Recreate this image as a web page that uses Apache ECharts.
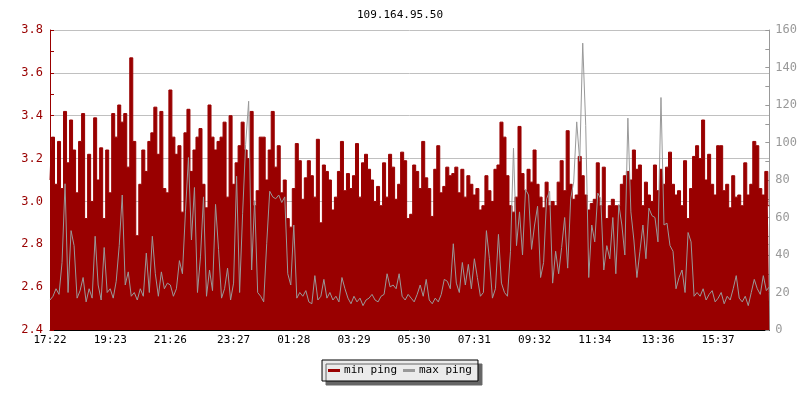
<!DOCTYPE html>
<html>
<head>
<meta charset="utf-8">
<title>109.164.95.50</title>
<script src="https://cdn.jsdelivr.net/npm/echarts@6/dist/echarts.min.js"></script>
<style>
  html, body { margin: 0; padding: 0; background: #fff; }
  #myPing { width: 800px; height: 400px; }
</style>
</head>
<body>
<div id="myPing"></div>
<script>
// tick labels and the sample index each one sits on
var tickLabels = ['17:22', '19:23', '21:26', '23:27', '01:28', '03:29', '05:30', '07:31', '09:32', '11:34', '13:36', '15:37']
var tickIdx = [0, 20, 40, 61, 81, 101, 121, 141, 161, 181, 202, 222]

// min ping, left axis (ms)
var minPing = [
  3.10, 3.30, 3.08, 3.28, 3.06, 3.42, 3.18, 3.38, 3.24, 3.04,
  3.28, 3.41, 2.92, 3.22, 3.00, 3.39, 3.10, 3.25, 2.92, 3.24,
  3.04, 3.41, 3.30, 3.45, 3.37, 3.41, 3.16, 3.67, 3.28, 2.84,
  3.08, 3.24, 3.14, 3.28, 3.32, 3.44, 3.22, 3.42, 3.06, 3.04,
  3.52, 3.30, 3.22, 3.26, 2.95, 3.32, 3.43, 3.14, 3.24, 3.30,
  3.34, 3.08, 2.97, 3.45, 3.30, 3.24, 3.28, 3.30, 3.37, 3.02,
  3.40, 3.08, 3.18, 3.26, 3.37, 3.24, 3.20, 3.42, 2.98, 3.05,
  3.30, 3.30, 3.10, 3.24, 3.42, 3.16, 3.26, 3.04, 3.10, 2.92,
  2.88, 3.06, 3.27, 3.19, 3.01, 3.11, 3.19, 3.12, 3.02, 3.29,
  2.90, 3.17, 3.14, 3.10, 2.96, 3.02, 3.14, 3.28, 3.05, 3.13,
  3.06, 3.12, 3.27, 3.02, 3.18, 3.22, 3.15, 3.10, 3.00, 3.07,
  2.98, 3.18, 3.02, 3.22, 3.16, 3.01, 3.08, 3.23, 3.19, 2.92,
  2.94, 3.17, 3.14, 3.06, 3.28, 3.11, 3.06, 2.93, 3.15, 3.26,
  3.04, 3.07, 3.16, 3.12, 3.13, 3.16, 3.04, 3.15, 3.02, 3.12,
  3.08, 3.03, 3.06, 2.96, 2.98, 3.12, 3.05, 3.00, 3.15, 3.17,
  3.37, 3.30, 3.12, 2.98, 2.95, 3.02, 3.35, 3.13, 3.05, 3.15,
  3.09, 3.24, 3.08, 3.02, 2.97, 3.09, 2.98, 3.00, 2.98, 3.09,
  3.19, 3.05, 3.33, 3.08, 3.01, 3.03, 3.21, 3.12, 3.03, 2.96,
  2.99, 3.01, 3.18, 2.98, 3.16, 2.92, 2.98, 3.01, 2.98, 2.98,
  3.08, 3.12, 3.14, 3.10, 3.24, 3.15, 3.17, 2.98, 3.09, 3.03,
  3.00, 3.17, 3.05, 3.15, 3.08, 3.16, 3.23, 3.08, 3.03, 3.05,
  2.98, 3.19, 2.92, 3.06, 3.21, 3.26, 3.20, 3.38, 3.10, 3.22,
  3.08, 3.03, 3.26, 3.26, 3.05, 3.08, 2.97, 3.12, 3.02, 3.03,
  2.98, 3.18, 3.03, 3.08, 3.28, 3.26, 3.06, 3.03, 3.14, 2.98
]

// max ping, right axis (ms)
var maxPing = [
  16, 18, 22, 19, 36, 78, 20, 53, 45, 17,
  21, 28, 15, 22, 17, 50, 24, 16, 44, 20,
  22, 17, 26, 45, 72, 24, 31, 18, 20, 16,
  22, 18, 41, 20, 50, 30, 18, 31, 22, 25,
  24, 18, 22, 37, 30, 63, 92, 48, 76, 20,
  39, 71, 18, 32, 21, 67, 43, 17, 22, 33,
  16, 25, 82, 20, 62, 99, 122, 32, 69, 20,
  18, 15, 46, 74, 71, 70, 72, 68, 71, 30,
  24, 56, 17, 20, 18, 21, 15, 14, 29, 16,
  18, 27, 17, 20, 16, 18, 15, 28, 22, 17,
  14, 18, 15, 17, 13, 16, 17, 19, 16, 15,
  18, 19, 30, 23, 24, 22, 30, 18, 16, 19,
  17, 15, 19, 24, 18, 27, 16, 14, 17, 15,
  19, 27, 26, 22, 46, 25, 20, 36, 24, 35,
  22, 38, 28, 18, 20, 53, 38, 17, 22, 51,
  25, 20, 18, 42, 97, 45, 63, 40, 75, 72,
  43, 56, 66, 28, 36, 70, 74, 25, 42, 30,
  44, 60, 33, 70, 79, 111, 90, 153, 109, 28,
  56, 47, 73, 70, 32, 45, 38, 60, 30, 67,
  56, 40, 113, 63, 48, 28, 42, 56, 38, 65,
  61, 60, 47, 124, 56, 57, 45, 42, 22, 28,
  32, 20, 52, 47, 18, 20, 18, 22, 16, 19,
  21, 15, 17, 20, 14, 18, 16, 22, 29, 17,
  15, 18, 13, 20, 27, 22, 19, 29, 21, 23
]

// sample times, 6 min apart from 17:22
var categories = []
for (var i = 0; i < minPing.length; i++) {
  var m = (17 * 60 + 22 + i * 6) % 1440
  categories.push(('0' + Math.floor(m / 60)).slice(-2) + ':' + ('0' + (m % 60)).slice(-2))
}

var font = 'DejaVu Sans Mono'

var option = {
  animation: false,
  backgroundColor: '#fff',
  title: {
    text: '109.164.95.50',
    left: 'center',
    top: 5,
    textStyle: { fontFamily: font, fontSize: 11, fontWeight: 'normal', color: '#000' }
  },
  legend: {
    data: ['min ping', 'max ping'],
    left: 'center',
    top: 360,
    icon: 'rect',
    itemWidth: 12,
    itemHeight: 3,
    itemGap: 6,
    padding: [5, 6],
    backgroundColor: '#ebebeb',
    borderColor: '#000',
    borderWidth: 1,
    borderRadius: 0,
    shadowColor: '#666',
    shadowOffsetX: 4,
    shadowOffsetY: 4,
    shadowBlur: 0,
    textStyle: { fontFamily: font, fontSize: 11, color: '#000', padding: [0, 0, 0, -1] }
  },
  grid: { left: 50, right: 30, top: 30, bottom: 70, containLabel: false },
  xAxis: {
    type: 'category',
    data: categories,
    boundaryGap: false,
    axisLine: { lineStyle: { color: '#000', width: 1 } },
    axisTick: {
      inside: true,
      length: 5,
      lineStyle: { color: '#000' },
      interval: function (idx) { return tickIdx.indexOf(idx) >= 0 }
    },
    axisLabel: {
      interval: function (idx) { return tickIdx.indexOf(idx) >= 0 },
      formatter: function (v, idx) { return tickLabels[tickIdx.indexOf(idx)] || '' },
      fontFamily: font,
      fontSize: 11,
      color: '#000',
      margin: 5
    },
    splitLine: { show: false }
  },
  yAxis: [
    {
      type: 'value',
      min: 2.4,
      max: 3.8,
      interval: 0.2,
      position: 'left',
      axisLine: { show: true, lineStyle: { color: '#990000' } },
      axisTick: { show: true, inside: true, length: 4, lineStyle: { color: '#990000' } },
      minorTick: { show: true, splitNumber: 2, length: 4, lineStyle: { color: '#990000' } },
      axisLabel: {
        fontFamily: font,
        fontSize: 12,
        color: '#990000',
        margin: 7,
        formatter: function (v) { return v.toFixed(1) }
      },
      splitLine: { show: true, lineStyle: { color: '#c0c0c0', width: 1 } }
    },
    {
      type: 'value',
      min: 0,
      max: 160,
      interval: 20,
      position: 'right',
      axisLine: { show: true, lineStyle: { color: '#999' } },
      axisTick: { show: true, inside: true, length: 4, lineStyle: { color: '#999' } },
      minorTick: { show: true, splitNumber: 2, length: 4, lineStyle: { color: '#999' } },
      axisLabel: { fontFamily: font, fontSize: 12, color: '#999', margin: 6 },
      splitLine: { show: false }
    }
  ],
  series: [
    {
      name: 'min ping',
      type: 'line',
      yAxisIndex: 0,
      data: minPing,
      step: 'middle',
      showSymbol: false,
      symbol: 'none',
      lineStyle: { color: '#990000', width: 1 },
      itemStyle: { color: '#990000' },
      areaStyle: { color: '#990000', opacity: 1, origin: 'start' },
      emphasis: { disabled: true },
      z: 2
    },
    {
      name: 'max ping',
      type: 'line',
      yAxisIndex: 1,
      data: maxPing,
      showSymbol: false,
      symbol: 'none',
      lineStyle: { color: '#999999', width: 1 },
      itemStyle: { color: '#999999' },
      emphasis: { disabled: true },
      z: 3
    }
  ]
}

var myPing = echarts.init(document.getElementById('myPing'))
myPing.setOption(option)
</script>
</body>
</html>
